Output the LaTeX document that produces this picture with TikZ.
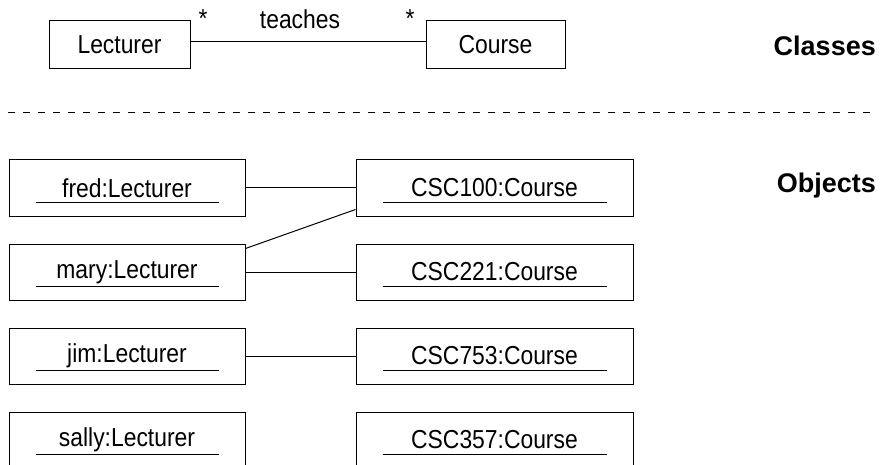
\documentclass[tikz,border=0pt]{standalone}
\usepackage{fontspec}
\setmainfont{Liberation Sans}
\usepackage{tikz}

% narrow looking text as in the original drawing
\newcommand{\cond}[1]{\scalebox{0.88}[1]{#1}}

\tikzset{
  classbox/.style={draw, line width=1pt, inner sep=0pt, minimum height=48pt},
  objbox/.style={draw, line width=1pt, inner sep=0pt, minimum height=56pt},
  lecbox/.style={objbox, minimum width=236pt},
  crsbox/.style={objbox, minimum width=277pt},
  link/.style={line width=1pt},
  heading/.style={anchor=east, inner sep=0pt, font=\fontsize{27}{30}\selectfont\bfseries},
}

\begin{document}
\begin{tikzpicture}[x=1pt,y=-1pt, font=\fontsize{26}{30}\selectfont]
    \useasboundingbox (0,0) rectangle (880,465);
    % classes
    \node [classbox, minimum width=141pt] (lecturer) at (119.5,45) {\cond{Lecturer}};
    \node [classbox, minimum width=139pt] (course) at (495.5,45) {\cond{Course}};
    \draw [link] ([yshift=3pt]lecturer.east) -- ([yshift=3pt]course.west);
    \node (teaches) at (300,19) {\cond{teaches}};
    \node (multl) at (203,19) {\cond{*}};
    \node (multr) at (410,19) {\cond{*}};
    \node [heading] (classes) at (876,46) {Classes};
    % separator
    \coordinate (sepl) at (8,113);
    \coordinate (sepr) at (872,113);
    \draw [line width=1pt, dash pattern=on 7pt off 8pt] (sepl) -- (sepr);
    \node [heading] (objects) at (876,186) {Objects};
    % objects
    \node [lecbox] (fred) at (127,188) {\cond{fred:Lecturer}};
    \node [lecbox] (mary) at (127,272) {\cond{mary:Lecturer}};
    \node [lecbox] (jim) at (127,356) {\cond{jim:Lecturer}};
    \node [lecbox] (sally) at (127,440) {\cond{sally:Lecturer}};
    \node [crsbox] (csc100) at (494.5,188) {\cond{CSC100:Course}};
    \node [crsbox] (csc221) at (494.5,272) {\cond{CSC221:Course}};
    \node [crsbox] (csc753) at (494.5,356) {\cond{CSC753:Course}};
    \node [crsbox] (csc357) at (494.5,440) {\cond{CSC357:Course}};
    % underlined object names
    \foreach \obj in {fred,mary,jim,sally,csc100,csc221,csc753,csc357}
        \draw [link] ([xshift=27pt,yshift=-14pt]\obj.west) -- ([xshift=-27pt,yshift=-14pt]\obj.east);
    % links
    \draw [link] (fred.east) -- (csc100.west);
    \draw [link] ([yshift=-5pt]mary.north east) -- ([yshift=7pt]csc100.south west);
    \draw [link] (mary.east) -- (csc221.west);
    \draw [link] (jim.east) -- (csc753.west);
\end{tikzpicture}
\end{document}
